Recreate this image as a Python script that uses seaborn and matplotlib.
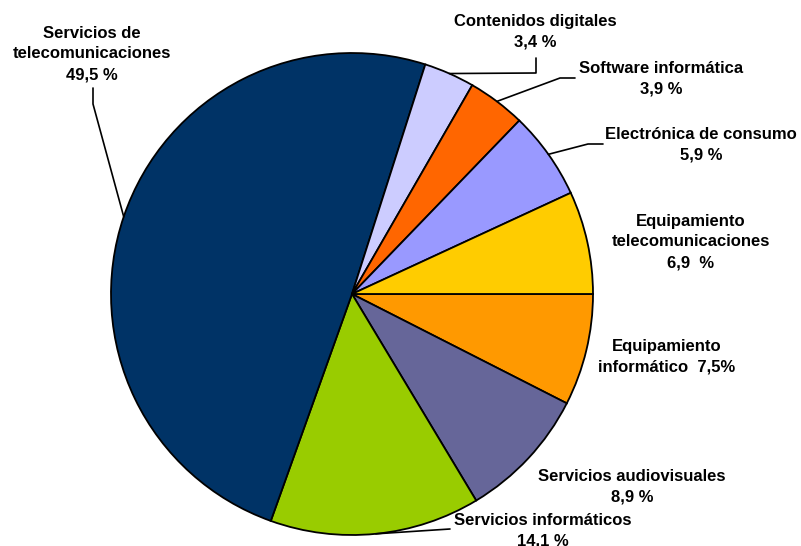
import numpy as np
import matplotlib.pyplot as plt
import seaborn as sns

# sectores en orden horario empezando a las 3 en punto
categorias = ["Equipamiento informático", "Servicios audiovisuales",
              "Servicios informáticos", "Servicios de telecomunicaciones",
              "Contenidos digitales", "Software informática",
              "Electrónica de consumo", "Equipamiento telecomunicaciones"]
porcentajes = [7.5, 8.9, 14.1, 49.5, 3.4, 3.9, 5.9, 6.9]
etiquetas = ["Equipamiento\ninformático  7,5%",
             "Servicios audiovisuales\n8,9 %",
             "Servicios informáticos\n14,1 %",
             "Servicios de\ntelecomunicaciones\n49,5 %",
             "Contenidos digitales\n3,4 %",
             "Software informática\n3,9 %",
             "Electrónica de consumo\n5,9 %",
             "Equipamiento\ntelecomunicaciones\n6,9  %"]
colores = ["#FF9900", "#666699", "#99CC00", "#003366",
           "#CCCCFF", "#FF6600", "#9999FF", "#FFCC00"]

W, H = 801, 546
# posiciones (pixeles) de cada etiqueta y del codo de su linea guia
pos_texto = [(667, 357), (632, 487), (543, 531), (92, 54),
             (535, 32), (661, 79), (701, 145), (691, 242)]
guias = [None, None, [(450, 529)], [(93, 104), (93, 88)],
         [(536, 73), (536, 58)], [(560, 78), (575, 78)],
         [(588, 144), (603, 144)], None]

sns.set_style("white")
plt.rcParams['font.family'] = ['Liberation Sans', 'DejaVu Sans']

fig = plt.figure(figsize=(W / 100, H / 100), dpi=100)
ax = fig.add_axes([0, 0, 1, 1])

cx, cy, r = 352, H - 294, 241
wedges, _ = ax.pie(porcentajes, colors=colores, startangle=0, counterclock=False,
                   center=(cx, cy), radius=r,
                   wedgeprops=dict(edgecolor='black', linewidth=1.3))
ax.set_xlim(0, W)
ax.set_ylim(0, H)
ax.set_aspect('equal')
ax.axis('off')

for w, txt, (tx, ty), guia in zip(wedges, etiquetas, pos_texto, guias):
    ax.text(tx, H - ty, txt, ha='center', va='center', fontsize=12,
            fontweight='bold', linespacing=1.48, color='black')
    if guia:
        ang = np.deg2rad((w.theta1 + w.theta2) / 2)
        xs = [cx + r * np.cos(ang)] + [p[0] for p in guia]
        ys = [cy + r * np.sin(ang)] + [H - p[1] for p in guia]
        ax.plot(xs, ys, color='black', linewidth=1.2)

plt.savefig('out.png', dpi=100)
